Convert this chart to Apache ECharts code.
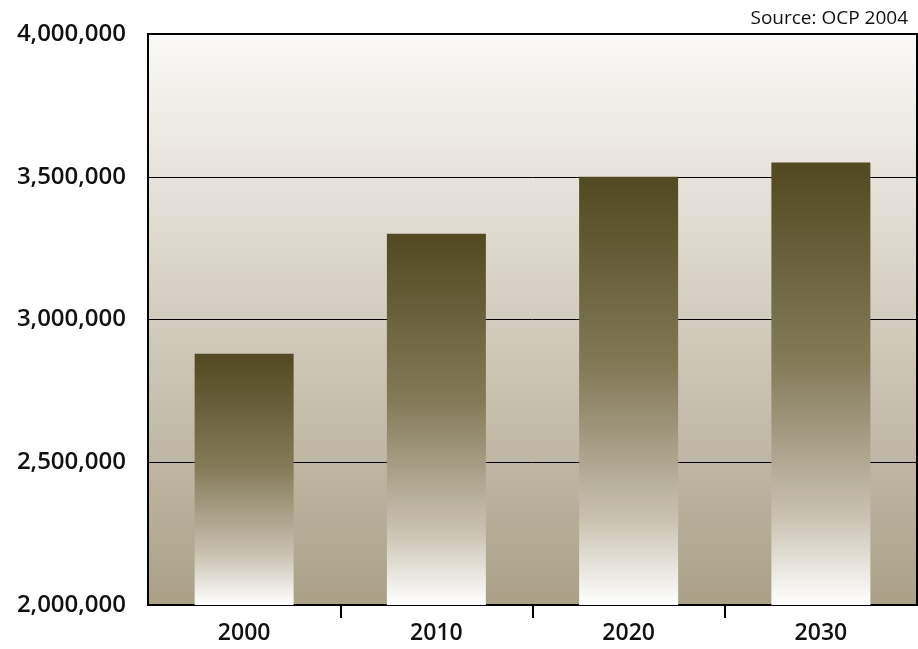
<!DOCTYPE html>
<html>
<head>
<meta charset="utf-8">
<script src="https://cdn.jsdelivr.net/npm/echarts@6/dist/echarts.min.js"></script>
<style>
  html, body { margin: 0; padding: 0; background: #fff; }
  #main { width: 918px; height: 649px; }
</style>
</head>
<body>
<div id="main"></div>
<script>
const years = ['2000', '2010', '2020', '2030'];
const values = [2880000, 3300000, 3500000, 3550000];
const yMin = 2000000;
const yMax = 4000000;
const yStep = 500000;

window.onload = function () {
  const chartDom = document.getElementById('main');
  const myChart = echarts.init(chartDom);
  const font = '"Open Sans", "Noto Sans", sans-serif';

  // ticks only between categories, not at the ends
  const innerTicks = years.slice(1).map(function (y, i) { return i + 1; });

  const option = {
    animation: false,
    backgroundColor: '#ffffff',
    textStyle: { fontFamily: font },
    title: {
      text: 'Source: OCP 2004',
      right: 5,
      top: 4,
      textStyle: { fontFamily: font, fontSize: 19, fontWeight: 'normal', color: '#111' }
    },
    grid: {
      left: 148, right: 1, top: 34, bottom: 44,
      show: true,
      borderColor: '#000',
      borderWidth: 2,
      backgroundColor: new echarts.graphic.LinearGradient(0, 0, 0, 1, [
        { offset: 0, color: '#faf9f7' },
        { offset: 0.3, color: '#e3ded5' },
        { offset: 1, color: '#a9a086' }
      ])
    },
    xAxis: [{
      type: 'category',
      data: years,
      axisLine: { lineStyle: { color: '#000', width: 2 } },
      axisTick: { show: false },
      axisLabel: { color: '#111', fontSize: 23, fontWeight: 600, margin: 17, fontFamily: font }
    }, {
      type: 'value',
      position: 'bottom',
      min: 0,
      max: years.length,
      interval: 1,
      axisLine: { show: false },
      splitLine: { show: false },
      axisLabel: { show: false },
      axisTick: {
        show: true, length: 13, customValues: innerTicks,
        lineStyle: { color: '#000', width: 2 }
      }
    }],
    yAxis: {
      type: 'value',
      min: yMin,
      max: yMax,
      interval: yStep,
      axisLine: { show: true, lineStyle: { color: '#000', width: 2 } },
      axisTick: { show: false },
      splitLine: { show: true, lineStyle: { color: '#000', width: 1 } },
      axisLabel: {
        color: '#111', fontSize: 24, fontWeight: 600, margin: 22, fontFamily: font,
        formatter: function (v) { return v.toLocaleString('en-US'); }
      }
    },
    series: [{
      type: 'bar',
      xAxisIndex: 0,
      data: values,
      barWidth: 99,
      itemStyle: {
        color: new echarts.graphic.LinearGradient(0, 0, 0, 1, [
          { offset: 0, color: '#524821' },
          { offset: 0.45, color: '#837a58' },
          { offset: 0.8, color: '#c9c2b1' },
          { offset: 1, color: '#ffffff' }
        ])
      }
    }]
  };
  option && myChart.setOption(option);
};
</script>
</body>
</html>
